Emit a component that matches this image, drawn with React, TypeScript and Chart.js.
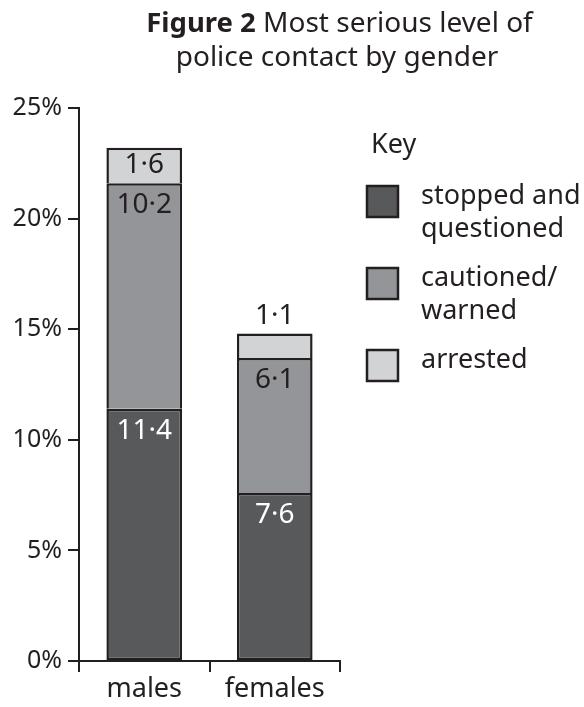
import React, { useEffect, useRef } from "react";
import { Chart, registerables } from "chart.js";

Chart.register(...registerables);

// ---------- data ----------
const categories = ["males", "females"];
const seriesNames = ["stopped and\nquestioned", "cautioned/\nwarned", "arrested"];
const stoppedValues = [11.4, 7.6];
const cautionedValues = [10.2, 6.1];
const arrestedValues = [1.6, 1.1];
const seriesColors = ["#58595b", "#939598", "#d1d3d4"];
const yMin = 0;
const yMax = 25;
const yStep = 5;
const titleBold = "Figure 2";
const titleRest = " Most serious level of";
const titleLine2 = "police contact by gender";
const legendTitle = "Key";

const FONT = "'Noto Sans', 'DejaVu Sans', sans-serif";
const INK = "#231f20";

const fmt = (v: number) => v.toFixed(1).replace(".", "\u00b7");

const titlePlugin = {
  id: "customTitle",
  afterDraw(chart: any) {
    const ctx = chart.ctx;
    ctx.save();
    ctx.fillStyle = INK;
    ctx.textBaseline = "alphabetic";
    ctx.textAlign = "left";
    const cx = 337;
    ctx.font = `bold 27.5px ${FONT}`;
    const wb = ctx.measureText(titleBold).width;
    ctx.font = `27.5px ${FONT}`;
    const wr = ctx.measureText(titleRest).width;
    const x0 = cx - (wb + wr) / 2;
    ctx.font = `bold 27.5px ${FONT}`;
    ctx.fillText(titleBold, x0, 32);
    ctx.font = `28px ${FONT}`;
    ctx.fillText(titleRest, x0 + wb, 32);
    ctx.textAlign = "center";
    ctx.fillText(titleLine2, cx, 66);
    ctx.restore();
  },
};

const legendPlugin = {
  id: "customLegend",
  afterDraw(chart: any) {
    const ctx = chart.ctx;
    ctx.save();
    ctx.fillStyle = INK;
    ctx.font = `27px ${FONT}`;
    ctx.textAlign = "left";
    ctx.textBaseline = "alphabetic";
    ctx.fillText(legendTitle, 371, 153);
    chart.data.datasets.forEach((ds: any, i: number) => {
      const base = 204 + i * 82;
      ctx.fillStyle = ds.backgroundColor;
      ctx.fillRect(367, base - 18, 31, 31);
      ctx.strokeStyle = INK;
      ctx.lineWidth = 2.5;
      ctx.strokeRect(367, base - 18, 31, 31);
      ctx.fillStyle = INK;
      String(ds.label)
        .split("\n")
        .forEach((line: string, j: number) => {
          ctx.fillText(line, 421, base + j * 33);
        });
    });
    ctx.restore();
  },
};

const segLabelPlugin = {
  id: "segLabels",
  afterDatasetsDraw(chart: any) {
    const ctx = chart.ctx;
    ctx.save();
    ctx.font = `28px ${FONT}`;
    ctx.textAlign = "center";
    ctx.textBaseline = "middle";
    chart.data.datasets.forEach((ds: any, di: number) => {
      const meta = chart.getDatasetMeta(di);
      meta.data.forEach((el: any, i: number) => {
        const v = ds.data[i];
        const { x, y, base } = el.getProps(["x", "y", "base"], true);
        const h = base - y;
        let ty: number;
        if (di === seriesNames.length - 1) ty = h > 30 ? (y + base) / 2 : y - 18;
        else ty = y + 22;
        ctx.fillStyle = di === 0 ? "#ffffff" : INK;
        ctx.fillText(fmt(v), x, ty);
      });
    });
    ctx.restore();
  },
};

export default function App() {
  const ref = useRef<HTMLCanvasElement | null>(null);
  useEffect(() => {
    if (!ref.current) return;
    const values = [stoppedValues, cautionedValues, arrestedValues];
    const chart = new Chart(ref.current, {
      type: "bar",
      data: {
        labels: categories,
        datasets: seriesNames.map((name, i) => ({
          label: name,
          data: values[i],
          backgroundColor: seriesColors[i],
          borderColor: INK,
          borderWidth: i === 0 ? 2.5 : { top: 2.5, left: 2.5, right: 2.5, bottom: 0 },
          borderSkipped: false,
          categoryPercentage: 1,
          barPercentage: 0.58,
        })),
      },
      options: {
        responsive: false,
        animation: false,
        devicePixelRatio: 1,
        layout: { padding: { top: 108, right: 244, left: 0, bottom: 0 } },
        plugins: { legend: { display: false }, tooltip: { enabled: false }, title: { display: false } },
        scales: {
          x: {
            stacked: true,
            offset: true,
            grid: {
              display: true,
              drawOnChartArea: false,
              drawTicks: true,
              tickLength: 11,
              color: INK,
              lineWidth: 2,
              offset: true,
            },
            border: { display: true, color: INK, width: 2 },
            ticks: { color: INK, font: { family: FONT, size: 27 }, padding: 1 },
            afterFit: (s: any) => {
              s.height = 46;
            },
          },
          y: {
            stacked: true,
            min: yMin,
            max: yMax,
            grid: {
              display: true,
              drawOnChartArea: false,
              drawTicks: true,
              tickLength: 11,
              color: INK,
              lineWidth: 2,
            },
            border: { display: true, color: INK, width: 2 },
            ticks: {
              stepSize: yStep,
              color: INK,
              font: { family: FONT, size: 25 },
              padding: 6,
              callback: (v: any) => `${v}%`,
            },
            afterFit: (s: any) => {
              s.width = 79;
            },
          },
        },
      },
      plugins: [segLabelPlugin, titlePlugin, legendPlugin],
    } as any);
    return () => chart.destroy();
  }, []);
  return (
    <div style={{ position: "absolute", left: 0, top: 0, width: 584, height: 707, background: "#fff" }}>
      <canvas ref={ref} width={584} height={707} />
    </div>
  );
}
